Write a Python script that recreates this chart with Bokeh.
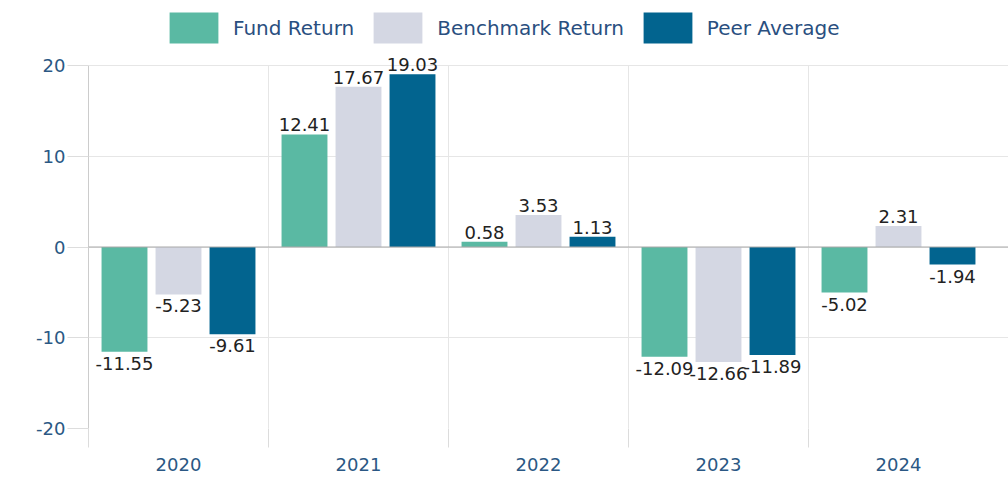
from bokeh.plotting import figure
from bokeh.models import (ColumnDataSource, Legend, LegendItem, FixedTicker, Span,
                          Range1d, PrintfTickFormatter)
from bokeh.embed import file_html
from bokeh.resources import INLINE
from bokeh.core.properties import value

years = ["2020", "2021", "2022", "2023", "2024"]
fund_return = [-11.55, 12.41, 0.58, -12.09, -5.02]
benchmark_return = [-5.23, 17.67, 3.53, -12.66, 2.31]
peer_average = [-9.61, 19.03, 1.13, -11.89, -1.94]
series_names = ["Fund Return", "Benchmark Return", "Peer Average"]
series_colors = ["#5ab9a3", "#d4d7e3", "#02648f"]
y_ticks = [-20, -10, 0, 10, 20]
y_min, y_max = -20, 20

FONT = "DejaVu Sans"
AXIS_COLOR = "#2b5884"

PLOT_TOP_PX = 65      # space reserved for the legend, inside the frame
AXIS_PX = 363         # pixel height of the -20..20 axis span
y_top = y_max + PLOT_TOP_PX * (y_max - y_min) / AXIS_PX

idx = list(range(len(years)))
bounds = [i - 0.5 for i in idx]   # category separators (left edge of each group)

p = figure(width=1008, height=478, output_backend="svg", toolbar_location=None,
           x_range=Range1d(-0.5, -0.5 + 920 / 180), y_range=Range1d(y_min, y_top),
           min_border_left=88, min_border_right=0, min_border_top=0,
           min_border_bottom=50)
p.outline_line_color = None
p.background_fill_color = "white"
p.border_fill_color = "white"

# grids
p.ygrid.ticker = FixedTicker(ticks=y_ticks)
p.ygrid.grid_line_color = "#e6e6e6"
p.xgrid.visible = False
inner = bounds[1:]
p.segment(x0=inner, y0=[y_min] * len(inner), x1=inner,
          y1=[y_max] * len(inner), line_color="#e6e6e6", line_width=1)

renderers = []
offsets = [-0.3, 0.0, 0.3]
for name, vals, color, off in zip(series_names,
                                  [fund_return, benchmark_return, peer_average],
                                  series_colors, offsets):
    xs = [i + off for i in idx]
    src = ColumnDataSource(dict(x=xs, top=vals))
    r = p.vbar(x="x", top="top", bottom=0, width=0.255, source=src,
               fill_color=color, line_color=None)
    renderers.append(r)
    pos = ColumnDataSource(dict(x=[x for x, v in zip(xs, vals) if v >= 0],
                                y=[v for v in vals if v >= 0],
                                t=[f"{v:.2f}" for v in vals if v >= 0]))
    neg = ColumnDataSource(dict(x=[x for x, v in zip(xs, vals) if v < 0],
                                y=[v for v in vals if v < 0],
                                t=[f"{v:.2f}" for v in vals if v < 0]))
    p.text(x="x", y="y", text="t", source=pos, text_align="center",
           text_baseline="bottom", y_offset=-3, text_font=value(FONT),
           text_font_size="18px", text_color="#222222")
    p.text(x="x", y="y", text="t", source=neg, text_align="center",
           text_baseline="top", y_offset=5, text_font=value(FONT),
           text_font_size="18px", text_color="#222222")

p.add_layout(Span(location=0, dimension="width", line_color="#a8a8a8",
                  line_width=1))

# x axis
xa = p.xaxis[0]
xa.ticker = FixedTicker(ticks=idx, minor_ticks=bounds)
xa.major_label_overrides = {i: y for i, y in enumerate(years)}
xa.axis_line_color = None
xa.major_tick_out = 0
xa.major_tick_in = 0
xa.minor_tick_out = 19
xa.minor_tick_in = 0
xa.minor_tick_line_color = "#dcdcdc"
xa.major_label_standoff = 10
xa.major_label_text_font = FONT
xa.major_label_text_font_size = "18px"
xa.major_label_text_color = AXIS_COLOR

# y axis
ya = p.yaxis[0]
ya.ticker = FixedTicker(ticks=y_ticks)
ya.formatter = PrintfTickFormatter(format="%d")
ya.bounds = (y_min, y_max)
ya.axis_line_color = "#cccccc"
ya.major_tick_out = 21
ya.major_tick_in = 0
ya.major_tick_line_color = "#dddddd"
ya.minor_tick_line_color = None
ya.major_label_standoff = 2
ya.major_label_text_font = FONT
ya.major_label_text_font_size = "18px"
ya.major_label_text_color = AXIS_COLOR

legend = Legend(items=[LegendItem(label=n, renderers=[r])
                       for n, r in zip(series_names, renderers)],
                location=(75, 381), orientation="horizontal",
                glyph_width=61, glyph_height=39, label_standoff=9,
                spacing=13, padding=0, margin=0,
                label_text_font=FONT, label_text_font_size="20px",
                label_text_color="#2a4f7f", background_fill_alpha=0,
                border_line_color=None)
p.add_layout(legend, "center")

open("out.html", "w").write(file_html(p, INLINE))
